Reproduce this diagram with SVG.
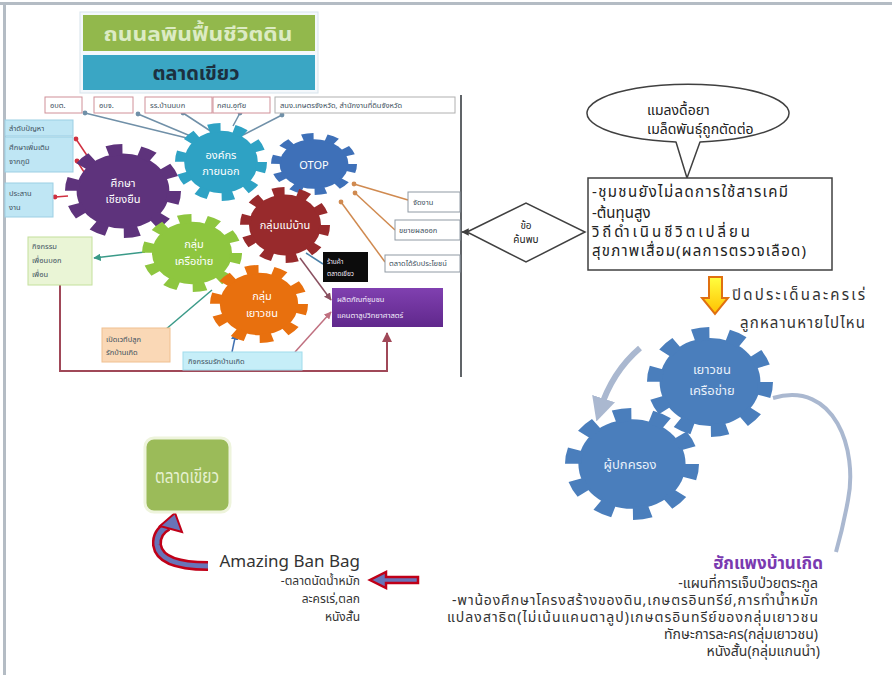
<svg xmlns="http://www.w3.org/2000/svg" width="892" height="675" viewBox="0 0 892 675">
<style>
text{font-family:"Noto Sans Thai","Leelawadee UI",Tahoma,"Liberation Sans","DejaVu Sans",sans-serif;}
.sm{font-size:7.5px;fill:#405060;}
.wt{font-size:7.5px;fill:#f4eefc;}
.gt{font-size:11px;fill:#ffffff;text-anchor:middle;}
.bx{font-size:15px;fill:#222;}
.bt{font-size:14px;fill:#333;text-anchor:end;}
.ln{fill:none;stroke-width:1.5;}
</style>
<defs>
<g id="gear"><circle r="40" fill="currentColor"/><circle r="44" fill="none" stroke="currentColor" stroke-width="12" stroke-dasharray="13 14.646"/></g>
<marker id="ah" viewBox="0 0 10 10" refX="9" refY="5" markerWidth="5" markerHeight="5" orient="auto"><path d="M0 0L10 5L0 10z" fill="context-stroke"/></marker>
<marker id="dot" viewBox="0 0 10 10" refX="5" refY="5" markerWidth="4" markerHeight="4"><circle cx="5" cy="5" r="4" fill="context-stroke"/></marker>
<marker id="ga" viewBox="0 0 10 10" refX="5" refY="5" markerWidth="4" markerHeight="4" orient="auto"><path d="M0 0L10 5L0 10z" fill="#aab8d0"/></marker>
<linearGradient id="yel" x1="0" y1="0" x2="0" y2="1"><stop offset="0" stop-color="#ffff40"/><stop offset="1" stop-color="#ffc000"/></linearGradient>
<linearGradient id="pur" x1="0" y1="0" x2="0" y2="1"><stop offset="0" stop-color="#8040b0"/><stop offset="1" stop-color="#60288c"/></linearGradient>
</defs>
<rect width="892" height="675" fill="#ffffff"/>
<rect x="0" y="2" width="892" height="3" fill="#b4bcc4"/>
<rect x="3" y="2" width="3" height="673" fill="#b4bcc4"/>

<g id="connectors">
<g stroke="#7090a8" class="ln">
<path d="M85 113L195 140" marker-start="url(#dot)"/>
<path d="M138 114L200 140" marker-start="url(#dot)"/>
<path d="M183 113L212 132" marker-start="url(#dot)"/>
<path d="M240 113L233 126" marker-start="url(#dot)"/>
<path d="M282 115L243 135" marker-start="url(#dot)"/>
</g>
<g stroke="#d03040" class="ln">
<path d="M90 160L76 139" marker-end="url(#dot)"/>
<path d="M84 172L77 161" marker-end="url(#dot)"/>
<path d="M68 196L55 197" marker-end="url(#dot)"/>
</g>
<path d="M145 252L94 258" stroke="#3a9a88" class="ln" marker-end="url(#ah)"/>
<path d="M165 330L212 290" stroke="#3a9a88" class="ln"/>
<path d="M232 352L236 333" stroke="#4070b0" class="ln" marker-end="url(#ah)"/>
<path d="M295 352L331 312" stroke="#c07080" class="ln" marker-end="url(#ah)"/>
<path d="M300 258L331 300" stroke="#8a5060" class="ln" marker-end="url(#ah)"/>
<path d="M323 264L306 253" stroke="#4a80a8" class="ln"/>
<g stroke="#d08a50" class="ln">
<path d="M408 200L354 184" marker-end="url(#dot)"/>
<path d="M395 230L355 193" marker-end="url(#dot)"/>
<path d="M385 262L341 202" marker-end="url(#dot)"/>
</g>
<path d="M60 285V371H387V333" stroke="#a04858" stroke-width="2" fill="none" marker-end="url(#ah)"/>
<path d="M461 95V377" stroke="#606468" stroke-width="2"/>
<path d="M467 232H462" stroke="#404040" stroke-width="1.5" marker-end="url(#ah)"/>
<path d="M640 348Q612 372 600 410" stroke="#aab8d0" stroke-width="6" fill="none" marker-end="url(#ga)"/>
<path d="M773 398C835 380 858 450 848 500C844 522 840 538 836 552" stroke="#aab8d0" stroke-width="4" fill="none"/>
<path d="M208 566Q160 566 157 545Q156 532 168 526" stroke="#c00018" stroke-width="10" fill="none"/>
<path d="M208 566Q160 566 157 545Q156 532 168 526" stroke="#6874b8" stroke-width="5" fill="none"/>
<path d="M175 513L160 526L182 532Z" fill="#6874b8" stroke="#c00018" stroke-width="2"/>
<path d="M418 577V583H386V588L370 580L386 572V577Z" fill="#6874b8" stroke="#c00018" stroke-width="2.5"/>
<path d="M709 277H722V298H728L715 314L702 298H709Z" fill="url(#yel)" stroke="#e07010" stroke-width="2"/>
</g>

<g id="title">
<rect x="80" y="12" width="238" height="81" fill="#f4f8fc" stroke="#d8e4ec"/>
<rect x="83" y="15" width="232" height="36" fill="#92b84c"/>
<text x="198" y="41" font-size="20" font-weight="bold" fill="#dcebc4" text-anchor="middle" textLength="189" lengthAdjust="spacingAndGlyphs">ถนนลพินฟื้นชีวิตดิน</text>
<rect x="83" y="55" width="232" height="35" fill="#3aa6c4"/>
<text x="196" y="80" font-size="20" font-weight="bold" fill="#1c3040" text-anchor="middle">ตลาดเขียว</text>
</g>

<g id="top-boxes" fill="#ffffff" stroke="#d09098">
<rect x="45" y="97" width="37" height="16"/>
<rect x="94" y="97" width="39" height="16"/>
<rect x="145" y="97" width="67" height="16"/>
<rect x="213" y="97" width="57" height="16"/>
<rect x="275" y="97" width="180" height="16" stroke="#b0b0b0"/>
</g>
<g id="top-box-text">
<text class="sm" x="50" y="108">อบต.</text>
<text class="sm" x="99" y="108">อบจ.</text>
<text class="sm" x="150" y="108">รร.บ้านนบก</text>
<text class="sm" x="217" y="108">กศน.อุทัย</text>
<text class="sm" x="280" y="108">สนง.เกษตรจังหวัด, สำนักงานที่ดินจังหวัด</text>
</g>

<g id="left-boxes">
<rect x="5" y="120" width="68" height="16" fill="#bfe6f4" stroke="#9ccfe4"/>
<text class="sm" x="9" y="131">ลำดับปัญหา</text>
<rect x="5" y="137" width="68" height="35" fill="#bfe6f4" stroke="#9ccfe4"/>
<text class="sm" x="9" y="150">ศึกษาเพิ่มเติม</text>
<text class="sm" x="9" y="164">จากภูมิ</text>
<rect x="5" y="183" width="48" height="34" fill="#bfe6f4" stroke="#9ccfe4"/>
<text class="sm" x="9" y="196">ประสาน</text>
<text class="sm" x="9" y="210">งาน</text>
</g>

<g id="gear-purple"><use href="#gear" color="#5e337c" transform="translate(123 191) scale(1.16 0.94)"/>
<text class="gt" x="123" y="187">ศึกษา</text><text class="gt" x="123" y="203">เชียงยืน</text></g>
<g id="gear-teal"><use href="#gear" color="#2ea2c4" transform="translate(221 162) scale(0.92 0.78)"/>
<text class="gt" x="221" y="159">องค์กร</text><text class="gt" x="221" y="175">ภายนอก</text></g>
<g id="gear-otop"><use href="#gear" color="#3e70b8" transform="translate(314 164) scale(0.86 0.62)"/>
<text class="gt" x="314" y="169" font-size="12">OTOP</text></g>
<g id="gear-red"><use href="#gear" color="#982a2c" transform="translate(285 225) scale(0.9 0.76)"/>
<text class="gt" x="285" y="229">กลุ่มแม่บ้าน</text></g>
<g id="gear-green"><use href="#gear" color="#8ec63f" transform="translate(192 253) scale(1.0 0.78)"/>
<text class="gt" x="194" y="248">กลุ่ม</text><text class="gt" x="194" y="265">เครือข่าย</text></g>
<g id="gear-orange"><use href="#gear" color="#e8700e" transform="translate(259 304) scale(0.98 0.78)"/>
<text class="gt" x="262" y="300">กลุ่ม</text><text class="gt" x="262" y="317">เยาวชน</text></g>

<g id="box-friend"><rect x="28" y="237" width="64" height="48" fill="#eaf5d6" stroke="#c4e09c"/>
<text class="sm" x="32" y="249">กิจกรรม</text><text class="sm" x="32" y="263">เพื่อนบอก</text><text class="sm" x="32" y="277">เพื่อน</text></g>
<g id="box-stage"><rect x="102" y="328" width="68" height="34" fill="#fad8b6" stroke="#f0c090"/>
<text class="sm" x="106" y="342">เปิดเวทีปลูก</text><text class="sm" x="106" y="355">รักบ้านเกิด</text></g>
<g id="box-home"><rect x="183" y="352" width="119" height="18" fill="#c6eef8" stroke="#a0dcec"/>
<text class="sm" x="188" y="364">กิจกรรมรักบ้านเกิด</text></g>
<g id="box-black"><rect x="323" y="252" width="45" height="30" fill="#0c0c0c"/>
<text class="wt" x="327" y="264" style="font-size:6.5px">ร้านค้า</text><text class="wt" x="327" y="276" style="font-size:6.5px">ตลาดเขียว</text></g>
<g id="box-purple"><rect x="332" y="288" width="111" height="39" fill="url(#pur)"/>
<text class="wt" x="337" y="302">ผลิตภัณฑ์ชุมชน</text><text class="wt" x="337" y="318">แคนตาลูปวิทยาศาสตร์</text></g>
<g id="right-boxes" fill="#ffffff" stroke="#909aa4">
<rect x="408" y="192" width="52" height="20"/>
<rect x="395" y="220" width="65" height="20"/>
<rect x="385" y="255" width="75" height="17"/>
</g>
<g id="right-box-text">
<text class="sm" x="413" y="205">จัดงาน</text>
<text class="sm" x="399" y="233">ขยายผลออก</text>
<text class="sm" x="389" y="266">ตลาดได้รับประโยชน์</text>
</g>

<g id="diamond"><path d="M467 232L526 203L585 232L526 262Z" fill="#ffffff" stroke="#404040" stroke-width="1.5"/>
<text x="526" y="229" font-size="10" fill="#222" text-anchor="middle">ข้อ</text>
<text x="526" y="243" font-size="10" fill="#222" text-anchor="middle">ค้นพบ</text></g>

<g id="callout"><path d="M676 142A101 29 0 1 1 700 142L687 178Z" fill="#ffffff" stroke="#404040" stroke-width="1.5" stroke-linejoin="round"/>
<text class="bx" x="647" y="115" style="font-size:14px">แมลงดื้อยา</text>
<text class="bx" x="647" y="134" style="font-size:14px">เมล็ดพันธุ์ถูกตัดต่อ</text></g>

<g id="findings"><rect x="588" y="178" width="244" height="92" fill="#ffffff" stroke="#404040" stroke-width="1.5"/>
<text class="bx" x="592" y="197" textLength="196" lengthAdjust="spacing">-ชุมชนยังไม่ลดการใช้สารเคมี</text>
<text class="bx" x="592" y="218">-ต้นทุนสูง</text>
<text class="bx" x="592" y="237" textLength="158" lengthAdjust="spacing">วิถีดำเนินชีวิตเปลี่ยน</text>
<text class="bx" x="592" y="256" textLength="214" lengthAdjust="spacing">สุขภาพเสื่อม(ผลการตรวจเลือด)</text></g>

<g id="drama-text">
<text class="bt" x="865" y="300" style="font-size:15px" textLength="133" lengthAdjust="spacing">ปิดประเด็นละครเร่</text>
<text class="bt" x="865" y="328" style="font-size:15px" textLength="125" lengthAdjust="spacing">ลูกหลานหายไปไหน</text>
</g>

<g id="gear-youth"><use href="#gear" color="#4a7ebc" transform="translate(710 382) scale(1.26 1.1)"/>
<text class="gt" x="712" y="374" style="font-size:13px;fill:#e8f0fa">เยาวชน</text><text class="gt" x="712" y="395" style="font-size:13px;fill:#e8f0fa">เครือข่าย</text></g>
<g id="gear-parent"><use href="#gear" color="#4a7ebc" transform="translate(632 464) scale(1.34 1.12)"/>
<text class="gt" x="630" y="469" style="font-size:13px;fill:#e8f0fa">ผู้ปกครอง</text></g>

<g id="hometown">
<text x="823" y="569" font-size="17" font-weight="bold" fill="#7a3ab0" text-anchor="end">ฮักแพงบ้านเกิด</text>
<text class="bt" x="818" y="588">-แผนที่การเจ็บป่วยตระกูล</text>
<text class="bt" x="818" y="605" textLength="366" lengthAdjust="spacing">-พาน้องศึกษาโครงสร้างของดิน,เกษตรอินทรีย์,การทำน้ำหมัก</text>
<text class="bt" x="818" y="622" textLength="371" lengthAdjust="spacing">แปลงสาธิต(ไม่เน้นแคนตาลูป)เกษตรอินทรีย์ของกลุ่มเยาวชน</text>
<text class="bt" x="818" y="639">ทักษะการละคร(กลุ่มเยาวชน)</text>
<text class="bt" x="820" y="656">หนังสั้น(กลุ่มแกนนำ)</text>
</g>

<g id="amazing">
<text x="360" y="567" font-size="17" fill="#333" text-anchor="end" font-family="'Open Sans','Liberation Sans',sans-serif">Amazing Ban Bag</text>
<text class="bt" x="360" y="585" style="font-size:12px">-ตลาดนัดน้ำหมัก</text>
<text class="bt" x="360" y="603" style="font-size:12px">ละครเร่,ตลก</text>
<text class="bt" x="360" y="621" style="font-size:12px">หนังสั้น</text>
</g>

<g id="green-market"><rect x="145" y="438" width="85" height="74" rx="9" fill="#9bbb59" stroke="#eef4dc" stroke-width="3"/>
<text x="187" y="483" font-size="20" fill="#e6f1d2" text-anchor="middle" textLength="64" lengthAdjust="spacingAndGlyphs">ตลาดเขียว</text></g>
</svg>
